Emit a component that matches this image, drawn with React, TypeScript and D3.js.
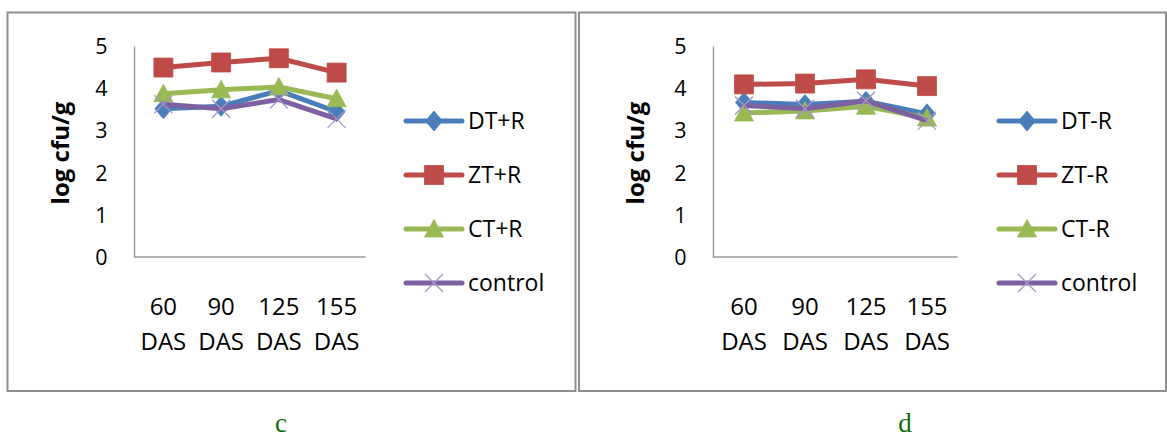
import { useRef, useEffect } from "react";
import * as d3 from "d3";

// x categories (two-line labels)
const DAYS = ["60", "90", "125", "155"];
const DAY_UNIT = "DAS";
const Y_TICKS = [0, 1, 2, 3, 4, 5];

// panel c — with R
const C_NAMES = ["DT+R", "ZT+R", "CT+R", "control"];
const C_DT = [3.52, 3.58, 3.95, 3.45];
const C_ZT = [4.5, 4.62, 4.72, 4.38];
const C_CT = [3.88, 3.97, 4.04, 3.76];
const C_CONTROL = [3.63, 3.52, 3.74, 3.28];

// panel d — without R
const D_NAMES = ["DT-R", "ZT-R", "CT-R", "control"];
const D_DT = [3.67, 3.62, 3.7, 3.4];
const D_ZT = [4.1, 4.12, 4.22, 4.06];
const D_CT = [3.42, 3.47, 3.58, 3.3];
const D_CONTROL = [3.6, 3.52, 3.71, 3.24];

const COLORS = ["#4a7ebb", "#be4b48", "#98b954", "#7d60a0"];
const MARKERS = ["diamond", "square", "triangle", "x"];
const FONT = "'Open Sans', sans-serif";

interface Panel {
  letter: string;
  letterX: number;
  names: string[];
  series: number[][];
  box: [number, number]; // left, right of the frame
  plotX: [number, number];
  legendX: number;
  titleX: number;
}

const PANELS: Panel[] = [
  { letter: "c", letterX: 281, names: C_NAMES, series: [C_DT, C_ZT, C_CT, C_CONTROL], box: [7.5, 575.5], plotX: [134.5, 365.5], legendX: 406, titleX: 62 },
  { letter: "d", letterX: 905, names: D_NAMES, series: [D_DT, D_ZT, D_CT, D_CONTROL], box: [579, 1166], plotX: [713.5, 957.5], legendX: 999, titleX: 637 },
];

function markerPath(kind: string): string {
  if (kind === "diamond") return "M0,-10L8.5,0L0,10L-8.5,0Z";
  if (kind === "square") return "M-9.5,-9.5H9.5V9.5H-9.5Z";
  if (kind === "triangle") return "M0,-9.5L9.5,8L-9.5,8Z";
  return "M-9,-9L9,9M-9,9L9,-9";
}

function drawMarker(g: d3.Selection<SVGGElement, unknown, null, undefined>, kind: string, color: string, x: number, y: number) {
  const p = g.append("path")
    .attr("transform", `translate(${x},${y})`)
    .attr("d", markerPath(kind));
  if (kind === "x") {
    p.attr("fill", "none").attr("stroke", "#a795c8").attr("stroke-width", 1.3);
  } else {
    p.attr("fill", color).attr("stroke", color).attr("stroke-width", 0.8);
  }
}

export default function App() {
  const svgRef = useRef<SVGSVGElement>(null);

  useEffect(() => {
    if (!svgRef.current) return;
    const svg = d3.select(svgRef.current);
    svg.selectAll("*").remove();

    const yScale = d3.scaleLinear().domain([0, 5]).range([257, 46.5]);

    PANELS.forEach((panel) => {
      const g = svg.append("g") as d3.Selection<SVGGElement, unknown, null, undefined>;

      // ── Frame ──────────────────────────────────────────────
      g.append("rect")
        .attr("x", panel.box[0])
        .attr("y", 12.5)
        .attr("width", panel.box[1] - panel.box[0])
        .attr("height", 378.5)
        .attr("fill", "none")
        .attr("stroke", "#8e8e8e")
        .attr("stroke-width", 2);

      const xScale = d3.scaleBand<string>()
        .domain(DAYS)
        .range(panel.plotX)
        .padding(0);
      const cx = (d: string) => (xScale(d) ?? 0) + xScale.bandwidth() / 2;

      // ── Axes ───────────────────────────────────────────────
      g.append("path")
        .attr("d", `M${panel.plotX[0]},${yScale(5)}V${yScale(0)}H${panel.plotX[1]}`)
        .attr("fill", "none")
        .attr("stroke", "#9a9a9a")
        .attr("stroke-width", 1.5);

      g.selectAll(".ytick")
        .data(Y_TICKS)
        .join("text")
        .attr("x", panel.plotX[0] - 27)
        .attr("y", (d) => yScale(d))
        .attr("dy", "0.36em")
        .attr("text-anchor", "end")
        .attr("font-family", FONT)
        .attr("font-size", 21.5)
        .attr("fill", "#000")
        .text((d) => d);

      DAYS.forEach((d) => {
        const t = g.append("text")
          .attr("x", cx(d))
          .attr("text-anchor", "middle")
          .attr("font-family", FONT)
          .attr("font-size", 24)
          .attr("fill", "#000");
        t.append("tspan").attr("x", cx(d)).attr("y", 315).text(d);
        t.append("tspan").attr("x", cx(d)).attr("y", 350).text(DAY_UNIT);
      });

      // y title
      g.append("text")
        .attr("transform", `translate(${panel.titleX},153) rotate(-90)`)
        .attr("text-anchor", "middle")
        .attr("dy", "0.28em")
        .attr("font-family", FONT)
        .attr("font-weight", "bold")
        .attr("font-size", 24)
        .attr("fill", "#000")
        .text("log cfu/g");

      // ── Series ─────────────────────────────────────────────
      const line = d3.line<number>()
        .x((_, i) => cx(DAYS[i]))
        .y((v) => yScale(v));

      panel.series.forEach((vals, si) => {
        g.append("path")
          .attr("d", line(vals) ?? "")
          .attr("fill", "none")
          .attr("stroke", COLORS[si])
          .attr("stroke-width", 5)
          .attr("stroke-linejoin", "round");
        vals.forEach((v, i) => drawMarker(g, MARKERS[si], COLORS[si], cx(DAYS[i]), yScale(v)));
      });

      // ── Legend ─────────────────────────────────────────────
      const legendY = d3.scalePoint<string>().domain(panel.names).range([121, 283]);
      panel.names.forEach((name, si) => {
        const ly = legendY(name) ?? 0;
        g.append("line")
          .attr("x1", panel.legendX).attr("x2", panel.legendX + 56)
          .attr("y1", ly).attr("y2", ly)
          .attr("stroke", COLORS[si])
          .attr("stroke-width", 5)
          .attr("stroke-linecap", "round");
        drawMarker(g, MARKERS[si], COLORS[si], panel.legendX + 28, ly);
        g.append("text")
          .attr("x", panel.legendX + 62)
          .attr("y", ly)
          .attr("dy", "0.36em")
          .attr("font-family", FONT)
          .attr("font-size", 23)
          .attr("fill", "#000")
          .text(name);
      });

      // ── Panel letter ───────────────────────────────────────
      g.append("text")
        .attr("x", panel.letterX)
        .attr("y", 432)
        .attr("text-anchor", "middle")
        .attr("font-family", "'Liberation Serif', serif")
        .attr("font-size", 27)
        .attr("fill", "#0b6b0b")
        .text(panel.letter);
    });
  }, []);

  return (
    <svg
      ref={svgRef}
      width={1167}
      height={440}
      style={{ position: "absolute", left: 0, top: 0, background: "#fff" }}
    />
  );
}
